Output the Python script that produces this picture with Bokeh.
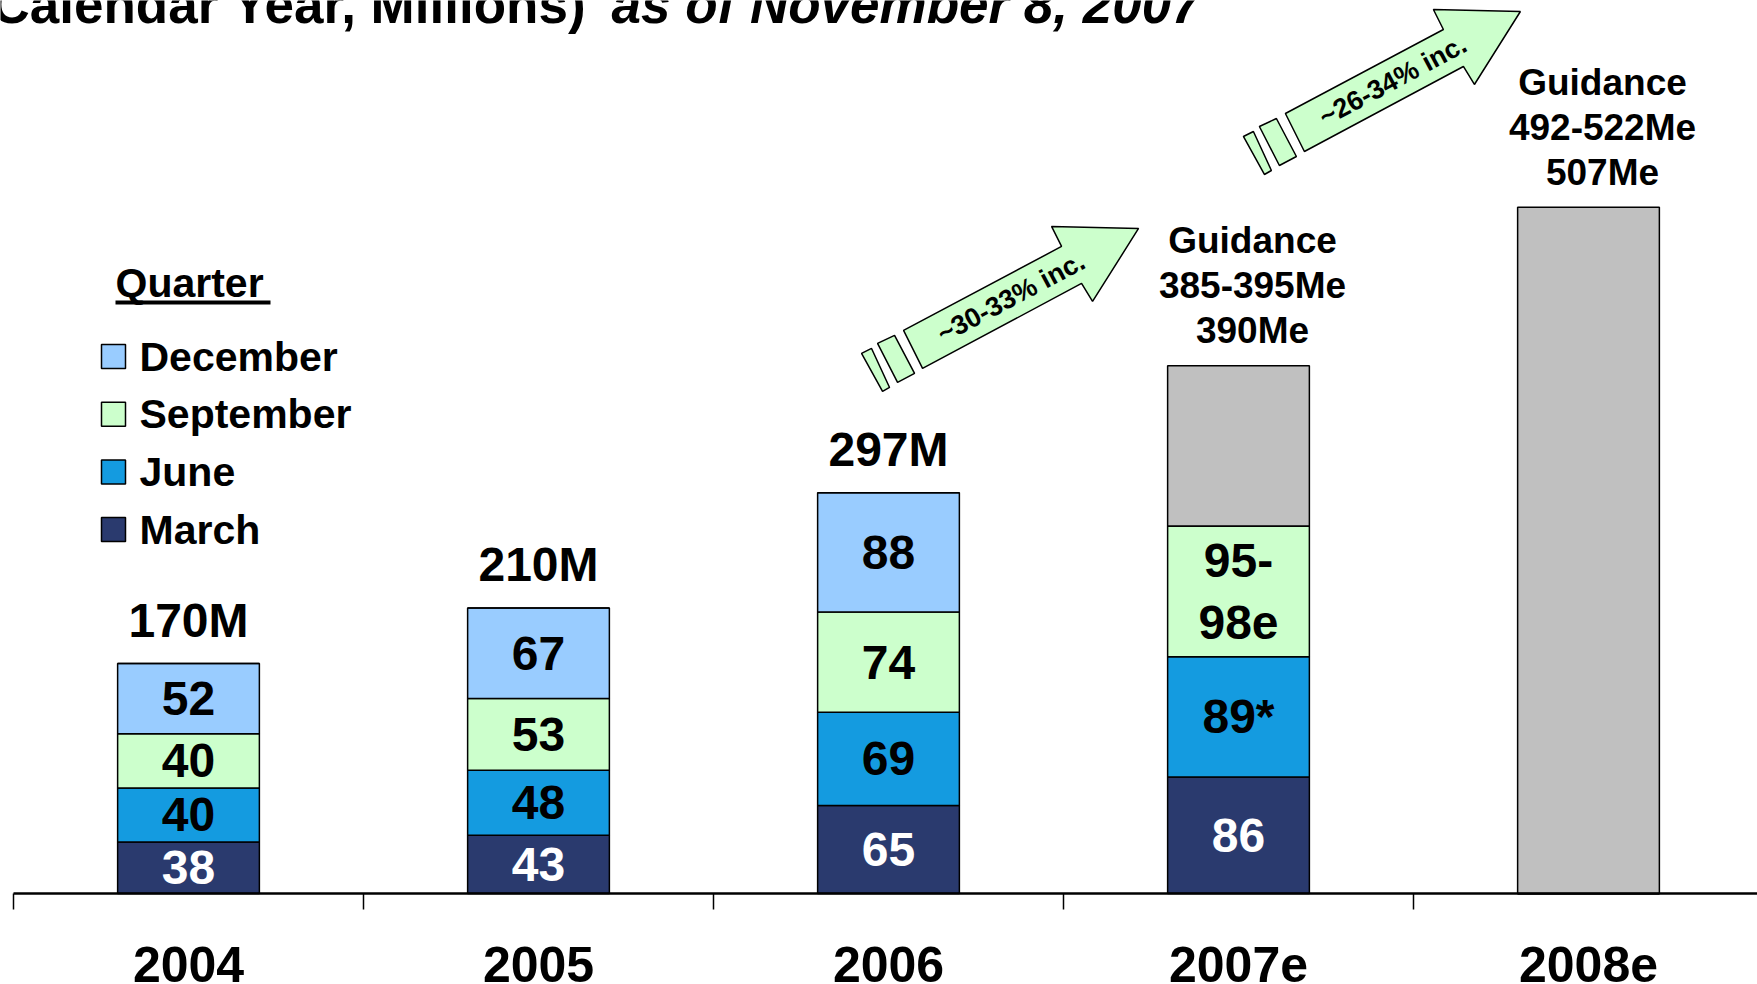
import math
from bokeh.plotting import figure
from bokeh.models import Range1d, FixedTicker, ColumnDataSource
from bokeh.core.properties import value
from bokeh.embed import file_html
from bokeh.resources import INLINE

# ---------------- data ----------------
years = ["2004", "2005", "2006", "2007e", "2008e"]
march = [38, 43, 65, 86, 0]
june = [40, 48, 69, 89, 0]
september = [40, 53, 74, 96.5, 0]
december = [52, 67, 88, 0, 0]
guidance_mid = [0, 0, 0, 390, 507]          # estimated full-year totals (Me)

march_labels = ["38", "43", "65", "86", ""]
june_labels = ["40", "48", "69", "89*", ""]
september_labels = ["40", "53", "74", "95-\n98e", ""]
december_labels = ["52", "67", "88", "", ""]
total_labels = ["170M", "210M", "297M", "", ""]
guidance_lines = [[], [], [],
                  ["Guidance", "385-395Me", "390Me"],
                  ["Guidance", "492-522Me", "507Me"]]
growth_labels = ["~30-33% inc.", "~26-34% inc."]
legend_labels = ["December", "September", "June", "March"]

# ---------------- style ----------------
FONT = value("Liberation Sans")
C_MAR, C_JUN, C_SEP, C_DEC, C_EST = "#2A3A6E", "#149BE0", "#CCFFCC", "#99CCFF", "#C0C0C0"

W, H = 1757, 984
PXX = 350.0            # px per category
PXY = 1.3535           # px per million
AXIS_PX = 893          # canvas y of the baseline
LEFT_PX = 13           # canvas x of the first category edge
X0 = -LEFT_PX / PXX
X1 = X0 + W / PXX
Y1 = AXIS_PX / PXY
Y0 = -(H - AXIS_PX) / PXY

def dxp(px):
    return px / PXX

def dyp(px):
    return px / PXY

def gx_(px):           # canvas px -> data x
    return (px - LEFT_PX) / PXX

def gy_(py):           # canvas px -> data y
    return (AXIS_PX - py) / PXY

p = figure(width=W, height=H, x_range=Range1d(X0, X1), y_range=Range1d(Y0, Y1),
           output_backend="svg", toolbar_location=None, y_axis_location=None,
           min_border=0, min_border_left=0, min_border_right=0,
           min_border_top=0, min_border_bottom=0)
p.outline_line_color = None
p.grid.visible = False
p.background_fill_color = "white"

xc = [i + 0.5 for i in range(len(years))]
remaining = [max(g - (m + j + s + d), 0) if g else 0
             for g, m, j, s, d in zip(guidance_mid, march, june, september, december)]

src = ColumnDataSource(dict(x=xc, march=march, june=june, september=september,
                            december=december, remaining=remaining))
p.vbar_stack(["march", "june", "september", "december", "remaining"], x="x", width=0.405,
             fill_color=[C_MAR, C_JUN, C_SEP, C_DEC, C_EST], line_color="black",
             line_width=1.5, source=src)

# ---- segment labels ----
lx, ly, lt, lc = [], [], [], []
for i in range(len(years)):
    base = 0
    for vals, labs, col in ((march, march_labels, "white"), (june, june_labels, "black"),
                            (september, september_labels, "black"),
                            (december, december_labels, "black")):
        v = vals[i]
        if v and labs[i]:
            lx.append(xc[i]); ly.append(base + v / 2); lt.append(labs[i]); lc.append(col)
        base += v
p.text(x=lx, y=ly, text=lt, text_color=lc, text_font=FONT, text_font_style="bold",
       text_font_size="48px", text_align="center", text_baseline="middle",
       text_line_height=1.17)

# ---- totals ----
tx, ty, tt = [], [], []
for i in range(len(years)):
    if total_labels[i]:
        tx.append(xc[i]); ty.append(march[i] + june[i] + september[i] + december[i])
        tt.append(total_labels[i])
p.text(x=tx, y=ty, text=tt, y_offset=-43, text_font=FONT, text_font_style="bold",
       text_font_size="48px", text_align="center", text_baseline="middle")

# ---- guidance ----
gx, gy, gt, go = [], [], [], []
for i in range(len(years)):
    lines = guidance_lines[i]
    n = len(lines)
    for k, line in enumerate(lines):
        gx.append(xc[i]); gy.append(guidance_mid[i]); gt.append(line)
        go.append(-35 - 45 * (n - 1 - k))
p.text(x=gx, y=gy, text=gt, y_offset=go, x_offset=14, text_font=FONT,
       text_font_style="bold", text_font_size="37px", text_align="center",
       text_baseline="middle")

# ---- growth arrows ----
ARROW = [(0, 0), (158, -84), (148, -104), (235, -102), (189, -29), (178, -47), (19, 38)]
STRIPES = [[(-26, 13), (-9, 5), (11, 43), (-6, 52)],
           [(-42, 23), (-32, 18), (-14, 57), (-21, 61)]]
arrow_x = [2.543, 3.634]
arrow_y = [416.0, 576.3]
pxs, pys = [], []
for ax, ay in zip(arrow_x, arrow_y):
    for shape in [ARROW] + STRIPES:
        pxs.append([ax + dxp(ox) for ox, oy in shape])
        pys.append([ay - dyp(oy) for ox, oy in shape])
p.patches(pxs, pys, fill_color=C_SEP, line_color="black", line_width=1.5)
ang = math.atan2(84, 158)
p.text(x=[ax + dxp(107.5) for ax in arrow_x], y=[ay + dyp(33) for ay in arrow_y],
       text=growth_labels, angle=ang, text_font=FONT, text_font_style="bold",
       text_font_size="27px", text_align="center", text_baseline="middle")

# ---- x axis ----
ax_ = p.xaxis[0]
ax_.fixed_location = 0
ax_.ticker = FixedTicker(ticks=xc, minor_ticks=[0, 1, 2, 3, 4])
ax_.major_label_overrides = {x: y for x, y in zip(xc, years)}
ax_.major_tick_out = 0
ax_.major_tick_in = 0
ax_.minor_tick_out = 16
ax_.minor_tick_in = 0
ax_.minor_tick_line_width = 1.5
ax_.minor_tick_line_color = "black"
ax_.axis_line_width = 2.5
ax_.axis_line_color = "black"
ax_.bounds = (0, 5)
ax_.major_label_text_font = "Liberation Sans"
ax_.major_label_text_font_style = "bold"
ax_.major_label_text_font_size = "50px"
ax_.major_label_text_color = "black"
ax_.major_label_standoff = 37

# ---- legend (Quarter) ----
leg_colors = [C_DEC, C_SEP, C_JUN, C_MAR]
leg_y = [gy_(356 + 57.7 * k) for k in range(len(legend_labels))]
leg_x = gx_(113)
p.rect(x=[leg_x] * 4, y=leg_y, width=24, height=24, width_units="screen",
       height_units="screen", fill_color=leg_colors, line_color="black", line_width=1.5)
p.text(x=[leg_x + dxp(26)] * 4, y=leg_y, text=legend_labels, text_font=FONT,
       text_font_style="bold", text_font_size="41px", text_align="left",
       text_baseline="middle")
p.text(x=[gx_(115)], y=[gy_(282.5)], text=["Quarter"], text_font=FONT, text_font_style="bold",
       text_font_size="41px", text_align="left", text_baseline="middle")
p.segment(x0=[gx_(115)], y0=[gy_(302)], x1=[gx_(270)], y1=[gy_(302)],
          line_color="black", line_width=4)

# ---- clipped title ----
p.text(x=[gx_(-9)], y=[gy_(4)], text=["Calendar Year, Millions)"], text_font=FONT,
       text_font_style="bold", text_font_size="53px", text_align="left",
       text_baseline="middle")
p.text(x=[gx_(611)], y=[gy_(4)], text=["as of November 8, 2007"], text_font=FONT,
       text_font_style="bold italic", text_font_size="53px", text_align="left",
       text_baseline="middle")

open("out.html", "w").write(file_html(p, INLINE))
